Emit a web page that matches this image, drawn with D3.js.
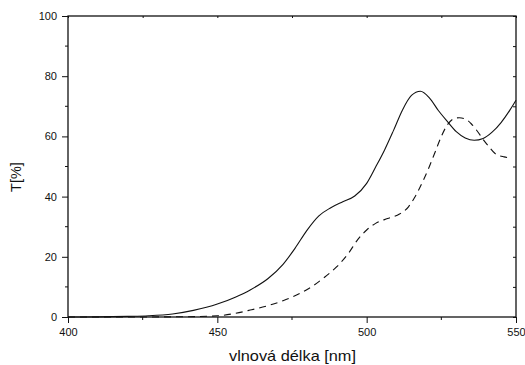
<!DOCTYPE html>
<html>
<head>
<meta charset="utf-8">
<script src="https://cdn.jsdelivr.net/npm/d3@7"></script>
<style>
  body { margin: 0; background: #fff; }
  svg { display: block; font-family: "Liberation Sans", Arial, sans-serif; }
</style>
</head>
<body>
<svg id="chart" width="525" height="365"></svg>
<script>
// wavelength [nm] / transmittance [%]
const solidX = [400, 410, 420, 427, 435, 442, 450, 456, 461, 467, 472, 476, 480, 484, 488, 492, 496, 500, 503, 506, 509, 512, 515, 518, 521, 524, 527, 530, 533, 536, 539, 542, 545, 548, 550];
const solidY = [0, 0.05, 0.2, 0.4, 1.0, 2.2, 4.3, 6.6, 9.0, 12.8, 17.5, 22.8, 28.8, 33.6, 36.3, 38.3, 40.2, 44.4, 49.8, 55.5, 62.0, 68.8, 73.6, 75.0, 72.8, 68.6, 65.0, 61.6, 59.5, 58.7, 59.3, 61.4, 64.6, 68.8, 72.0];
const dashX = [400, 420, 440, 450, 456, 461, 467, 472, 478, 482, 486, 490, 494, 497, 500, 503, 507, 511, 514, 516, 519, 521, 523, 525, 527, 529, 531, 533, 535, 537, 539, 541, 543, 546, 548];
const dashY = [0, 0, 0.1, 0.4, 1.2, 2.3, 3.8, 5.4, 8.0, 10.3, 13.3, 16.7, 21.3, 25.7, 28.9, 31.1, 32.7, 34.2, 36.6, 39.6, 45.5, 50.0, 55.0, 60.0, 63.8, 65.8, 66.2, 65.8, 64.2, 61.8, 59.0, 56.5, 54.3, 53.2, 52.9];
const xTicks = [400, 450, 500, 550];
const xMinor = [425, 475, 525];
const yTicks = [0, 20, 40, 60, 80, 100];
const yMinor = [10, 30, 50, 70, 90];
const xTitle = "vlnová délka [nm]";
const yTitle = "T[%]";

const svg = d3.select("#chart");
const m = { left: 68, right: 516, top: 16, bottom: 317 };

const x = d3.scaleLinear().domain([400, 550]).range([m.left, m.right]);
const y = d3.scaleLinear().domain([0, 100]).range([m.bottom, m.top]);

const ink = "#111";

// frame
svg.append("rect")
  .attr("x", m.left).attr("y", m.top)
  .attr("width", m.right - m.left).attr("height", m.bottom - m.top)
  .attr("fill", "none").attr("stroke", ink).attr("stroke-width", 1.3);

// bottom axis (outward ticks)
const xAxis = svg.append("g").attr("transform", `translate(0,${m.bottom})`)
  .call(d3.axisBottom(x).tickValues(xTicks).tickSize(6).tickPadding(5).tickFormat(d3.format("d")));
xAxis.select(".domain").remove();
xAxis.append("g").selectAll("line").data(xMinor).join("line")
  .attr("x1", d => x(d)).attr("x2", d => x(d)).attr("y1", 0).attr("y2", 3)
  .attr("stroke", ink);

// left axis (outward ticks)
const yAxis = svg.append("g").attr("transform", `translate(${m.left},0)`)
  .call(d3.axisLeft(y).tickValues(yTicks).tickSize(6).tickPadding(5).tickFormat(d3.format("d")));
yAxis.select(".domain").remove();
yAxis.append("g").selectAll("line").data(yMinor).join("line")
  .attr("x1", 0).attr("x2", -3).attr("y1", d => y(d)).attr("y2", d => y(d))
  .attr("stroke", ink);

// inner ticks on right and top sides
const rightTicks = svg.append("g").attr("transform", `translate(${m.right},0)`)
  .call(d3.axisRight(y).tickValues(yTicks.concat(yMinor)).tickSize(-3).tickFormat(""));
rightTicks.select(".domain").remove();
const topTicks = svg.append("g").attr("transform", `translate(0,${m.top})`)
  .call(d3.axisTop(x).tickValues(xTicks.concat(xMinor)).tickSize(-2).tickFormat(""));
topTicks.select(".domain").remove();

svg.selectAll(".tick line").attr("stroke", ink);
svg.selectAll(".tick text").attr("font-size", 11).attr("fill", "#111")
  .attr("font-family", "Liberation Sans, Arial, sans-serif");

// curves
const line = (xs, ys) => d3.line()
  .x((d, i) => x(xs[i]))
  .y(d => y(d))
  .curve(d3.curveMonotoneX)(ys);

const plot = svg.append("g");
plot.append("path").attr("d", line(solidX, solidY))
  .attr("fill", "none").attr("stroke", ink).attr("stroke-width", 1.1);
plot.append("path").attr("d", line(dashX, dashY))
  .attr("fill", "none").attr("stroke", ink).attr("stroke-width", 1.1)
  .attr("stroke-dasharray", "7,5");

// titles
svg.append("text").attr("x", 292.5).attr("y", 361)
  .attr("text-anchor", "middle").attr("font-size", 14.5).attr("fill", "#111")
  .attr("textLength", 127).attr("lengthAdjust", "spacingAndGlyphs")
  .text(xTitle);
svg.append("text")
  .attr("transform", "translate(20.5,177) rotate(-90)")
  .attr("text-anchor", "middle").attr("font-size", 14.5).attr("fill", "#111")
  .text(yTitle);
</script>
</body>
</html>
